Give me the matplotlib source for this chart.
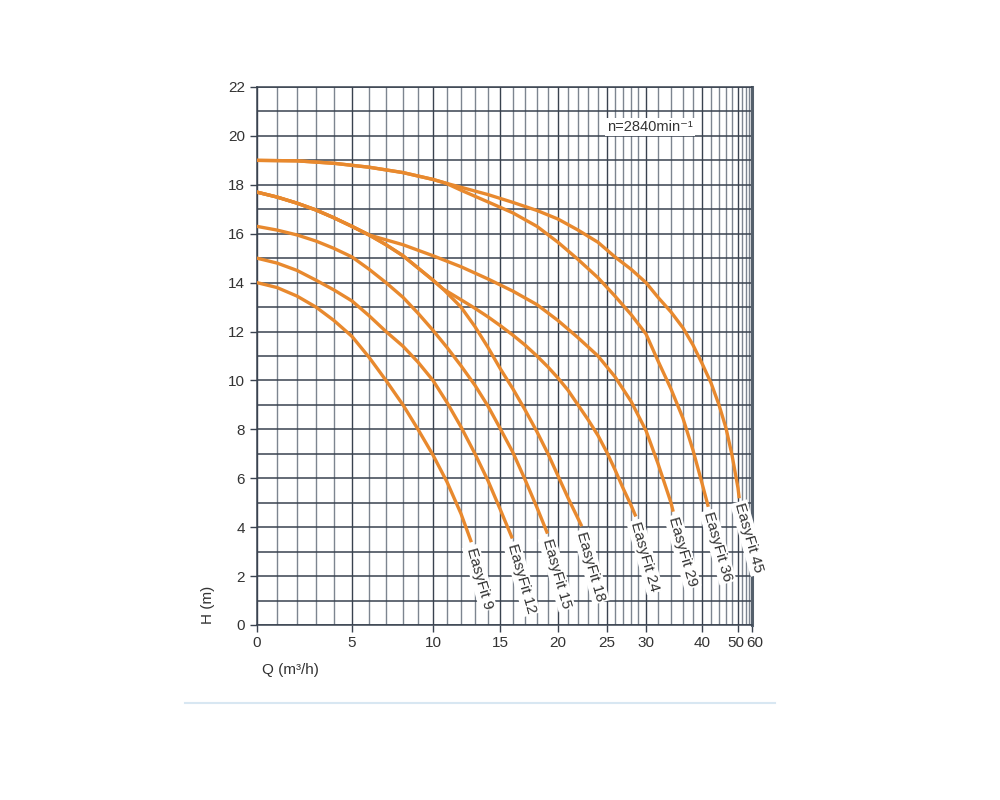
import numpy as np
import matplotlib
matplotlib.use('Agg')
import matplotlib.pyplot as plt
import matplotlib.transforms as mtransforms
from matplotlib.lines import Line2D

plt.rcParams['font.family'] = ['Liberation Sans', 'DejaVu Sans']

# non-linear flow axis of the pump chart (grid values and their relative spacing)
SCALE_Q = [0, 1, 2, 3, 4, 5, 6, 7, 8, 9, 10, 11, 12, 13, 14, 15, 16, 17, 18, 19,
           20, 21, 22, 23, 24, 25, 26, 27, 28, 29, 30, 32, 34, 36, 38, 40, 42,
           44, 46, 48, 50, 52, 54, 56, 58, 60]
SCALE_POS = [0, 20, 40, 59, 77, 95, 112, 129, 146, 161, 176, 190, 204, 218, 231,
             243, 256, 268, 280, 291, 301, 311, 321, 331, 341, 350, 358, 366,
             374, 381, 389, 401, 414, 426, 436, 445, 454, 462, 469, 475, 481,
             485, 489, 492, 494, 495]

Q_TICKS = [0, 5, 10, 15, 20, 25, 30, 40, 50, 60]
H_TICKS = list(range(0, 23, 2))

# pump curves: Q (m3/h), H (m)
Q_9 = [0, 1, 2, 3, 4, 5, 6, 7, 8, 9, 10, 11, 12, 12.7]
H_9 = [14, 13.8, 13.45, 13.0, 12.45, 11.8, 10.95, 10.0, 9.0, 8.0, 6.95, 5.85,
       4.55, 3.45]

Q_12 = [0, 1, 2, 3, 4, 5, 6, 7, 8, 9, 10, 11, 12, 13, 14, 15, 15.9]
H_12 = [15, 14.8, 14.5, 14.1, 13.7, 13.25, 12.65, 12.0, 11.4, 10.75, 10.0, 9.1,
        8.1, 7.0, 5.9, 4.75, 3.6]

Q_15 = [0, 1, 2, 3, 4, 5, 6, 7, 8, 9, 10, 11, 12, 13, 14, 15, 16, 17, 18, 18.9]
H_15 = [16.3, 16.15, 15.95, 15.7, 15.4, 15.05, 14.55, 14.0, 13.4, 12.75, 12.05,
        11.35, 10.6, 9.8, 8.95, 8.05, 7.05, 5.95, 4.8, 3.8]

Q_18 = [0, 1, 2, 3, 4, 5, 6, 7, 8, 9, 10, 10.7, 12, 13, 14, 15, 16, 17, 18, 19,
        20, 21, 22.3]
H_18 = [17.7, 17.5, 17.25, 16.97, 16.65, 16.3, 15.95, 15.55, 15.1, 14.6, 14.1,
        13.75, 13.0, 12.2, 11.35, 10.5, 9.65, 8.8, 7.9, 7.0, 6.1, 5.2, 4.1]

Q_24 = [0, 1, 2, 3, 4, 5, 6, 7, 8, 9, 10, 10.7, 12, 13, 14, 15, 16, 17, 18, 19,
        20, 21, 22, 23, 24, 25, 26, 27, 28, 28.6]
H_24 = [17.7, 17.5, 17.25, 16.97, 16.65, 16.3, 15.95, 15.55, 15.1, 14.6, 14.1,
        13.75, 13.3, 12.95, 12.6, 12.25, 11.85, 11.45, 11.0, 10.55, 10.1, 9.6,
        9.0, 8.4, 7.75, 7.05, 6.35, 5.6, 4.9, 4.5]

Q_29 = [0, 1, 2, 3, 4, 5, 6, 8, 10, 12, 14, 16, 18, 20, 22, 24, 26, 28, 30, 32,
        34, 34.3]
H_29 = [17.7, 17.5, 17.25, 16.97, 16.65, 16.3, 15.95, 15.55, 15.1, 14.65, 14.15,
        13.65, 13.1, 12.45, 11.75, 11.0, 10.15, 9.15, 7.95, 6.6, 5.0, 4.7]

Q_36 = [0, 2, 4, 6, 8, 10, 10.9, 12, 14, 16, 18, 20, 22, 24, 26, 28, 30, 32, 34,
        36, 38, 40, 41.3]
H_36 = [19, 18.98, 18.88, 18.72, 18.5, 18.22, 18.07, 17.78, 17.3, 16.85, 16.3,
        15.65, 14.95, 14.2, 13.45, 12.7, 11.9, 10.8, 9.65, 8.45, 7.15, 5.8, 4.9]

Q_45 = [0, 2, 4, 6, 8, 10, 10.9, 12, 14, 16, 18, 20, 22, 24, 26, 28, 30, 32, 34,
        36, 38, 40, 42, 44, 46, 48, 50, 50.5]
H_45 = [19, 18.98, 18.88, 18.72, 18.5, 18.22, 18.07, 17.9, 17.6, 17.28, 16.95,
        16.6, 16.15, 15.65, 15.05, 14.55, 14.0, 13.4, 12.8, 12.15, 11.45, 10.7,
        9.9, 9.0, 8.05, 6.95, 5.6, 5.25]

NAMES = ['EasyFit 9', 'EasyFit 12', 'EasyFit 15', 'EasyFit 18',
         'EasyFit 24', 'EasyFit 29', 'EasyFit 36', 'EasyFit 45']
CURVES = [(Q_9, H_9), (Q_12, H_12), (Q_15, H_15), (Q_18, H_18),
          (Q_24, H_24), (Q_29, H_29), (Q_36, H_36), (Q_45, H_45)]

ORANGE = '#e8892e'
GRID_DARK = '#39424f'
GRID_LIGHT = '#7d8590'
TEXT = '#333333'


def forward(q):
    return np.interp(q, SCALE_Q, SCALE_POS)


def inverse(p):
    return np.interp(p, SCALE_POS, SCALE_Q)


fig = plt.figure(figsize=(10, 8), dpi=100)
ax = fig.add_axes([0.257, 0.21875, 0.495, 0.6725])
ax.set_xscale('function', functions=(forward, inverse))
ax.set_xlim(0, 60)
ax.set_ylim(0, 22)

ax.set_xticks(Q_TICKS)
ax.set_xticklabels([str(v) for v in Q_TICKS])
ax.set_xticks([q for q in SCALE_Q if q not in Q_TICKS], minor=True)
ax.set_yticks(H_TICKS)
ax.set_yticks(range(1, 22, 2), minor=True)

ax.tick_params(axis='both', which='major', labelsize=11, labelcolor=TEXT,
               color=GRID_DARK, length=5, width=1)
ax.tick_params(axis='both', which='minor', length=0)
ax.tick_params(axis='x', pad=3)

# the last two flow labels sit tight against each other, as on the chart
xlabels = ax.get_xticklabels()
xlabels[-2].set_ha('right')
xlabels[-2].set_transform(xlabels[-2].get_transform() +
                          mtransforms.ScaledTranslation(6 / 100, 0, fig.dpi_scale_trans))
xlabels[-1].set_ha('left')
xlabels[-1].set_transform(xlabels[-1].get_transform() +
                          mtransforms.ScaledTranslation(-6 / 100, 0, fig.dpi_scale_trans))

for q in SCALE_Q:
    ax.axvline(q, color=GRID_DARK if q in Q_TICKS else GRID_LIGHT,
               lw=1.0, zorder=1)
for h in range(0, 23):
    ax.axhline(h, color=GRID_DARK, lw=1.1, zorder=1)

for side in ['left', 'bottom', 'top']:
    ax.spines[side].set_color(GRID_DARK)
    ax.spines[side].set_linewidth(1.1)
ax.spines['right'].set_color('#55606c')
ax.spines['right'].set_linewidth(2.2)

for name, (q, h) in zip(NAMES, CURVES):
    ax.plot(q, h, color=ORANGE, lw=2.4, solid_joinstyle='round', zorder=3)
    ax.annotate(name, xy=(q[-1], h[-1]), xytext=(0, -5),
                textcoords='offset points', rotation=-74,
                rotation_mode='anchor', ha='left', va='center',
                fontsize=11, color=TEXT, zorder=5,
                bbox=dict(boxstyle='square,pad=0.12', fc='white', ec='none'))

ax.text(0.794, 0.926, 'n=2840min⁻¹', transform=ax.transAxes, ha='center',
        va='center', fontsize=10.5, color=TEXT, zorder=5,
        bbox=dict(boxstyle='square,pad=0.15', fc='white', ec='none'))

fig.text(0.208, 0.244, 'H (m)', rotation=90, ha='center', va='center',
         fontsize=11, color=TEXT)
fig.text(0.29, 0.1625, 'Q (m³/h)', ha='center', va='center',
         fontsize=11, color=TEXT)

fig.add_artist(Line2D([0.185, 0.775], [0.121, 0.121], color='#d8e7f2',
                      lw=1.5, transform=fig.transFigure))

fig.savefig('out.png', dpi=100, facecolor='white')
